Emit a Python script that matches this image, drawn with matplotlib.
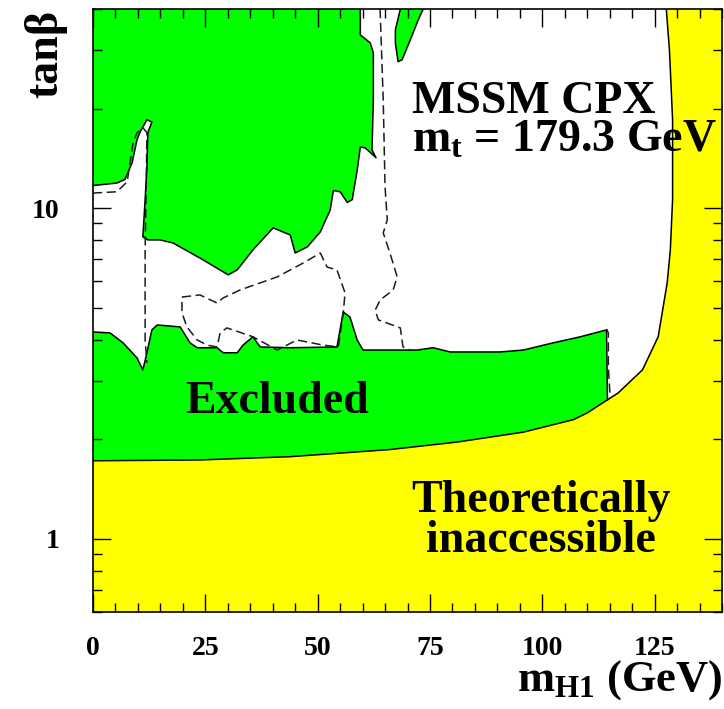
import numpy as np
from matplotlib import pyplot as plt
from matplotlib.ticker import FixedLocator, MultipleLocator, LogLocator, NullFormatter

plt.rcParams['font.family'] = ['Liberation Serif', 'DejaVu Serif']
plt.rcParams['font.weight'] = 'bold'
plt.rcParams['mathtext.fontset'] = 'custom'
plt.rcParams['mathtext.rm'] = 'Liberation Serif:bold'
plt.rcParams['mathtext.it'] = 'Liberation Serif:bold'
plt.rcParams['mathtext.bf'] = 'Liberation Serif:bold'

GREEN = '#00ff00'
YELLOW = '#ffff00'

# lower edge of the upper excluded region, left edge -> top of plot
upper_x = [0, 5.3, 7.1, 8.7, 9.8, 10.5, 12.0, 13.1, 12.2, 12.0, 11.6, 11.1, 12.2, 14.9,
           17.8, 23.8, 30.1, 32.1, 35.6, 40.1, 43.9, 45.0, 47.7, 50.6, 52.8, 53.5, 55.0,
           56.6, 57.7, 58.8, 59.5, 60.6, 63.0, 62.1, 62.4, 62.4, 61.7, 59.5, 59.5]
upper_y = [11.7, 11.9, 12.2, 13.7, 16.1, 17.0, 18.5, 18.2, 16.9, 13.3, 10.6, 8.18, 8.01, 8.01,
           7.84, 7.06, 6.28, 6.50, 7.47, 8.71, 8.29, 7.31, 7.63, 8.47, 9.87, 11.3, 11.2,
           10.4, 10.6, 13.0, 15.3, 15.2, 14.2, 15.0, 21.2, 29.5, 31.6, 33.4, 40.0]

# upper edge of the lower excluded band, right -> left edge
lower_x = [114.3, 108.5, 102.4, 95.8, 90.6, 79.5, 75.7, 72.2, 60.1, 58.8, 57.2, 55.7, 54.3,
           43.9, 37.2, 35.6, 33.4, 32.1, 29.0, 27.6, 23.2, 21.6, 19.4, 14.3, 13.1, 12.0,
           11.1, 9.8, 6.7, 3.8, 0]
lower_y = [4.28, 4.08, 3.91, 3.72, 3.67, 3.67, 3.78, 3.72, 3.72, 3.99, 4.68, 4.85, 3.80,
           3.78, 3.80, 4.08, 3.85, 3.65, 3.65, 3.78, 3.78, 3.91, 4.37, 4.43, 4.28, 3.65,
           3.24, 3.52, 3.91, 4.19, 4.22]

# theoretically inaccessible boundary
theo_x = [0, 23.8, 43.9, 66.1, 81.1, 95.8, 106.9, 110.0, 114.5, 116.9, 122.3, 125.8,
          127.8, 128.5, 129.0, 129.0, 128.3, 127.6]
theo_y = [1.72, 1.73, 1.77, 1.86, 1.96, 2.10, 2.29, 2.40, 2.63, 2.76, 3.24, 4.08,
          5.94, 7.47, 10.6, 18.5, 30.1, 40.0]
corner = 8  # where the lower band meets the theory boundary

# small excluded island at the top
island_x = [68.4, 67.3, 67.3, 67.9, 68.8, 70.6, 72.4, 73.5]
island_y = [40.0, 34.6, 31.6, 27.7, 28.1, 32.2, 37.1, 40.0]

# expected limit contours
expA_x = [0, 5.3, 7.6, 8.9, 9.8, 11.1, 12.0, 11.8, 11.6, 11.6, 11.6, 12.0]
expA_y = [11.1, 11.2, 12.0, 15.7, 16.9, 17.5, 16.9, 10.6, 7.47, 5.27, 3.99, 3.40]
expB_x = [19.8, 23.8, 27.6, 29.0, 32.7, 41.0, 46.8, 50.6, 52.1, 54.3, 56.1, 55.7, 54.6,
          51.2, 45.4, 41.0, 35.6, 29.8, 28.3, 27.6, 25.4, 23.2, 20.9, 19.8, 19.8]
expB_y = [5.38, 5.46, 5.16, 5.35, 5.65, 6.19, 6.82, 7.31, 6.63, 6.50, 5.54, 4.82, 3.80,
          3.85, 3.99, 3.72, 4.08, 4.34, 4.19, 3.80, 3.85, 3.99, 4.37, 4.82, 5.38]
expC_x = [63.9, 64.6, 65.0, 65.5, 64.6, 66.1, 67.7, 66.8, 63.9, 62.8, 63.5, 68.4, 69.0, 70.6]
expC_y = [40.0, 21.2, 11.6, 9.20, 8.41, 7.31, 6.19, 5.65, 5.27, 4.91, 4.59, 4.34, 3.80, 3.72]
expD_x = [114.3, 114.7, 114.7, 115.1]
expD_y = [4.31, 4.19, 3.31, 2.68]

fig = plt.figure(figsize=(7.24, 7.09), dpi=100)
ax = fig.add_axes([93/724, 1-612/709, 629/724, 603/709])
ax.set_facecolor(GREEN)
ax.set_yscale('log')
ax.set_xlim(0, 140)
ax.set_ylim(0.6, 40)

# allowed (white) region
wx = upper_x + [theo_x[-1]] + theo_x[corner:][::-1] + lower_x
wy = upper_y + [theo_y[-1]] + theo_y[corner:][::-1] + lower_y
ax.fill(wx, wy, color='white', lw=0, zorder=1)

# theoretically inaccessible region
yx = theo_x + [140, 140, 0]
yy = theo_y + [40, 0.6, 0.6]
ax.fill(yx, yy, color=YELLOW, lw=0, zorder=1)

ax.fill(island_x, island_y, color=GREEN, lw=0, zorder=1)

ax.plot(upper_x, upper_y, color='black', lw=1.1, zorder=2)
ax.plot([theo_x[corner]] + lower_x, [theo_y[corner]] + lower_y, color='black', lw=1.1, zorder=2)
ax.plot(theo_x, theo_y, color='black', lw=1.1, zorder=2)
ax.plot(island_x, island_y, color='black', lw=1.1, zorder=2)
for ex, ey in [(expA_x, expA_y), (expB_x, expB_y), (expC_x, expC_y), (expD_x, expD_y)]:
    ax.plot(ex, ey, color='#1a1a2a', lw=1.1, ls=(0, (6, 3)), zorder=2)

ax.xaxis.set_major_locator(MultipleLocator(25))
ax.xaxis.set_minor_locator(MultipleLocator(5))
ax.yaxis.set_major_locator(FixedLocator([1, 10]))
ax.yaxis.set_minor_locator(LogLocator(base=10, subs=np.arange(2, 10)))
ax.yaxis.set_minor_formatter(NullFormatter())
ax.set_yticklabels(['1', '10'])
ax.tick_params(which='both', direction='in', top=True, right=True, width=1, labelsize=20)
ax.tick_params(which='major', length=13)
ax.tick_params(which='minor', length=6.5)
ax.tick_params(axis='x', pad=17)
ax.tick_params(axis='y', pad=24)
for s in ax.spines.values():
    s.set_linewidth(1.2)
    s.set_zorder(5)

fig.text(412/724, 1-113/709, 'MSSM CPX', fontsize=33, va='baseline', ha='left')
fig.text(412/724, 1-152/709, r'$\mathrm{m_t}$ = 179.3 GeV', fontsize=33, va='baseline', ha='left')
fig.text(185/724, 1-413/709, 'Excluded', fontsize=33, va='baseline', ha='left')
fig.text(541/724, 1-512/709, 'Theoretically', fontsize=33, va='baseline', ha='center')
fig.text(541/724, 1-552/709, 'inaccessible', fontsize=33, va='baseline', ha='center')
fig.text(722/724, 1-691/709, r'$\mathrm{m_{H1}}$ (GeV)', fontsize=32, va='baseline', ha='right')
fig.text(46/724, 1-54/709, 'tanβ', fontsize=33, rotation=90, ha='center', va='center')

fig.savefig('out.png', dpi=100)
